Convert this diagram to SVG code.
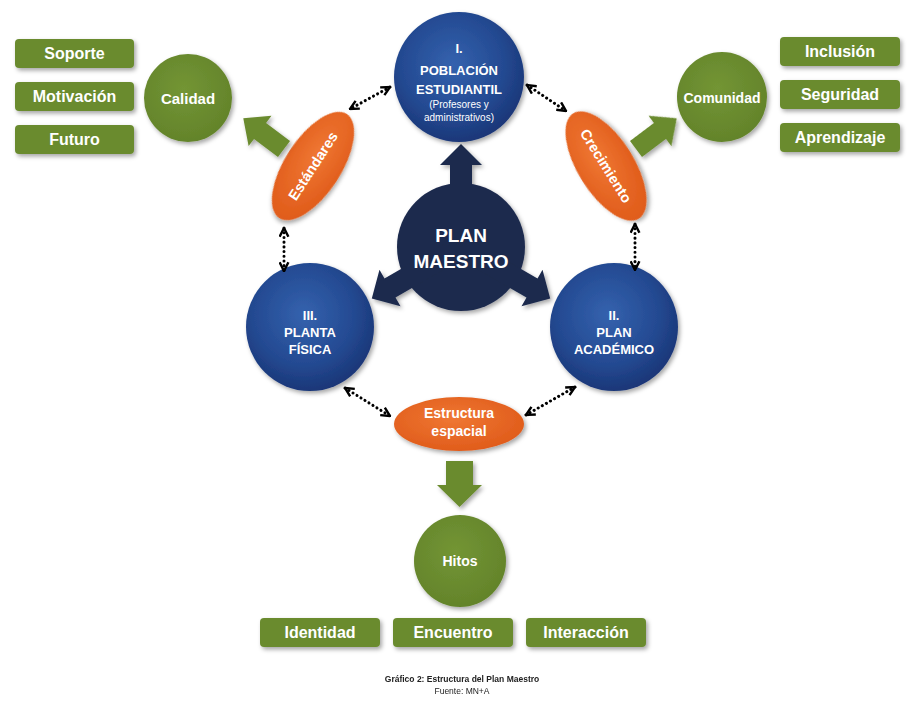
<svg xmlns="http://www.w3.org/2000/svg" width="921" height="702" viewBox="0 0 921 702">
<defs>
<radialGradient id="gBlue" cx="45%" cy="40%" r="65%">
<stop offset="0" stop-color="#3462ae"/>
<stop offset="0.6" stop-color="#244a92"/>
<stop offset="1" stop-color="#183272"/>
</radialGradient>
<radialGradient id="gOrange" cx="45%" cy="40%" r="65%">
<stop offset="0" stop-color="#ef7733"/>
<stop offset="1" stop-color="#df5a19"/>
</radialGradient>
<radialGradient id="gGreen" cx="45%" cy="40%" r="65%">
<stop offset="0" stop-color="#739534"/>
<stop offset="1" stop-color="#62822a"/>
</radialGradient>
<filter id="sh" x="-20%" y="-20%" width="150%" height="150%">
<feDropShadow dx="2" dy="2.5" stdDeviation="2" flood-color="#000" flood-opacity="0.35"/>
</filter>
<marker id="ah" viewBox="0 0 10 10" markerUnits="userSpaceOnUse" markerWidth="11" markerHeight="11" refX="9" refY="5" orient="auto-start-reverse">
<path d="M1,1 L9,5 L1,9" fill="none" stroke="#000" stroke-width="2.2" stroke-linejoin="miter"/>
</marker>
<path id="arr" d="M-11,0 L-11,-82 L-21,-82 L0,-103 L21,-82 L11,-82 L11,0 Z"/>
</defs>
<style>
.blue{fill:url(#gBlue);filter:url(#sh)}
.navy{fill:#1c2a4d}
.orange{fill:url(#gOrange);filter:url(#sh)}
.green{fill:url(#gGreen);filter:url(#sh)}
.box{fill:#6a8b2f;filter:url(#sh)}
.t{font-family:"Liberation Sans",Arial,sans-serif;fill:#fff;text-anchor:middle;font-weight:bold}
.tn{font-family:"Liberation Sans",Arial,sans-serif;fill:#fff;text-anchor:middle;font-weight:normal}
.bx{font-size:16px}
.dot{fill:none;stroke:#000;stroke-width:3;stroke-linecap:round;stroke-dasharray:0.1 4.6;marker-start:url(#ah);marker-end:url(#ah)}
.cap{font-family:"Liberation Sans",Arial,sans-serif;fill:#222;text-anchor:middle}
</style>

<g id="plan-maestro">
<g class="navy" filter="url(#sh)">
<circle cx="461" cy="247" r="64"/>
<use href="#arr" transform="translate(461,247)"/>
<use href="#arr" transform="translate(461,247) rotate(-120)"/>
<use href="#arr" transform="translate(461,247) rotate(120)"/>
</g>
<text class="t" x="461" y="242" font-size="19">PLAN</text>
<text class="t" x="461" y="268" font-size="19">MAESTRO</text>
</g>

<g id="poblacion">
<circle class="blue" cx="459" cy="77" r="65"/>
<text class="t" x="459" y="53" font-size="13">I.</text>
<text class="t" x="459" y="75" font-size="13">POBLACIÓN</text>
<text class="t" x="459" y="94" font-size="13">ESTUDIANTIL</text>
<text class="tn" x="459" y="108" font-size="10">(Profesores y</text>
<text class="tn" x="459" y="121" font-size="10">administrativos)</text>
</g>

<g id="planta-fisica">
<circle class="blue" cx="310" cy="327" r="64"/>
<text class="t" x="310" y="320" font-size="13">III.</text>
<text class="t" x="310" y="337" font-size="13">PLANTA</text>
<text class="t" x="310" y="354" font-size="13">FÍSICA</text>
</g>

<g id="plan-academico">
<circle class="blue" cx="614" cy="327" r="64"/>
<text class="t" x="614" y="320" font-size="13">II.</text>
<text class="t" x="614" y="337" font-size="13">PLAN</text>
<text class="t" x="614" y="354" font-size="13">ACADÉMICO</text>
</g>

<g id="estandares">
<ellipse class="orange" cx="0" cy="0" rx="28" ry="62" transform="translate(313,166) rotate(33)"/>
<text class="t" x="0" y="5" font-size="14.5" transform="translate(313,166) rotate(-57)">Estándares</text>
</g>

<g id="crecimiento">
<ellipse class="orange" cx="0" cy="0" rx="28" ry="62" transform="translate(606,166) rotate(-32)"/>
<text class="t" x="0" y="5" font-size="14.5" transform="translate(606,166) rotate(58)">Crecimiento</text>
</g>

<g id="estructura-espacial">
<ellipse class="orange" cx="459" cy="424" rx="65" ry="27"/>
<text class="t" x="459" y="418" font-size="14">Estructura</text>
<text class="t" x="459" y="436" font-size="14">espacial</text>
</g>

<g id="calidad">
<circle class="green" cx="188" cy="98" r="44"/>
<text class="t" x="188" y="104" font-size="15">Calidad</text>
</g>
<g id="comunidad">
<circle class="green" cx="722" cy="97" r="45"/>
<text class="t" x="722" y="103" font-size="14">Comunidad</text>
</g>
<g id="hitos">
<circle class="green" cx="460" cy="561" r="46"/>
<text class="t" x="460" y="566" font-size="14">Hitos</text>
</g>

<g id="box-soporte"><rect class="box" x="15" y="39" width="119" height="29" rx="4"/><text class="t bx" x="74.5" y="59">Soporte</text></g>
<g id="box-motivacion"><rect class="box" x="15" y="82" width="119" height="29" rx="4"/><text class="t bx" x="74.5" y="102">Motivación</text></g>
<g id="box-futuro"><rect class="box" x="15" y="125" width="119" height="29" rx="4"/><text class="t bx" x="74.5" y="145">Futuro</text></g>

<g id="box-inclusion"><rect class="box" x="780" y="37" width="120" height="29" rx="4"/><text class="t bx" x="840" y="57">Inclusión</text></g>
<g id="box-seguridad"><rect class="box" x="780" y="80" width="120" height="29" rx="4"/><text class="t bx" x="840" y="100">Seguridad</text></g>
<g id="box-aprendizaje"><rect class="box" x="780" y="123" width="120" height="29" rx="4"/><text class="t bx" x="840" y="143">Aprendizaje</text></g>

<g id="box-identidad"><rect class="box" x="260" y="618" width="120" height="29" rx="4"/><text class="t bx" x="320" y="638">Identidad</text></g>
<g id="box-encuentro"><rect class="box" x="393" y="618" width="120" height="29" rx="4"/><text class="t bx" x="453" y="638">Encuentro</text></g>
<g id="box-interaccion"><rect class="box" x="526" y="618" width="120" height="29" rx="4"/><text class="t bx" x="586" y="638">Interacción</text></g>

<g id="connectors">
<g fill="#6a8b2f" filter="url(#sh)">
<path d="M0,-10 L30,-10 L30,-19 L51,0 L30,19 L30,10 L0,10 Z" transform="translate(284,149) rotate(-143)"/>
<path d="M0,-10 L30,-10 L30,-19 L51,0 L30,19 L30,10 L0,10 Z" transform="translate(636,149) rotate(-37)"/>
<path d="M446,461 L473,461 L473,485 L482,485 L459.5,507 L437,485 L446,485 Z"/>
</g>
<path class="dot" d="M390,87 L350,109"/>
<path class="dot" d="M527,85 L566,111"/>
<path class="dot" d="M284,228 L284,271"/>
<path class="dot" d="M635,224 L635,270"/>
<path class="dot" d="M345,388 L390,416"/>
<path class="dot" d="M575,387 L526,415"/>
</g>

<g id="caption">
<text class="cap" x="462" y="682" font-size="8.5" font-weight="bold">Gráfico 2: Estructura del Plan Maestro</text>
<text class="cap" x="462" y="694" font-size="8.5">Fuente: MN+A</text>
</g>
</svg>
